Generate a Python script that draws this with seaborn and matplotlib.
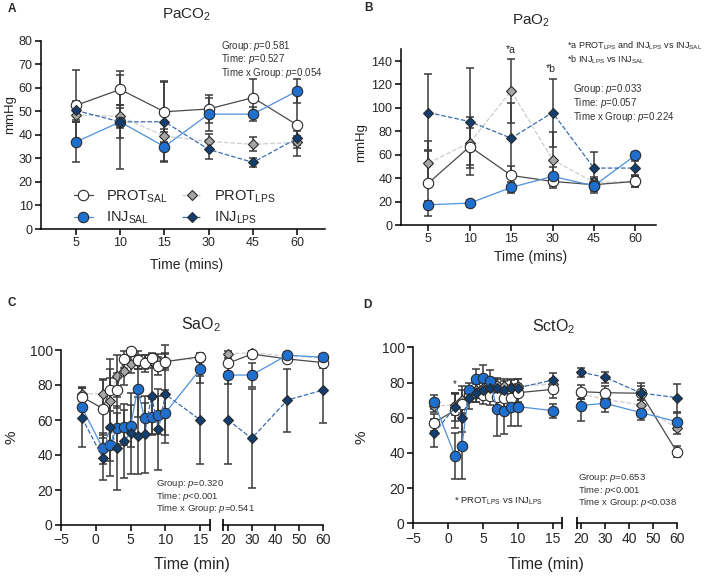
import numpy as np
import pandas as pd
import matplotlib
matplotlib.use("Agg")
import matplotlib.pyplot as plt
import seaborn as sns

sns.set_style("ticks")
plt.rcParams['font.family'] = ['Liberation Sans', 'DejaVu Sans']
plt.rcParams['mathtext.fontset'] = 'custom'
plt.rcParams['mathtext.rm'] = 'Liberation Sans'
plt.rcParams['mathtext.it'] = 'Liberation Sans:italic'
plt.rcParams['mathtext.bf'] = 'Liberation Sans:bold'

# ---- data ----
groups = ['PROT_SAL', 'INJ_SAL', 'PROT_LPS', 'INJ_LPS']
labels = {'PROT_SAL': r'PROT$_{\mathrm{SAL}}$', 'INJ_SAL': r'INJ$_{\mathrm{SAL}}$',
          'PROT_LPS': r'PROT$_{\mathrm{LPS}}$', 'INJ_LPS': r'INJ$_{\mathrm{LPS}}$'}

time_ab = ['5', '10', '15', '30', '45', '60']

# PaCO2
paco2 = {'PROT_SAL': [52.5, 59.3, 49.8, 51.0, 55.8, 44.2],
         'INJ_SAL': [37.0, 45.5, 35.0, 48.8, 48.8, 58.6],
         'PROT_LPS': [48.5, 47.8, 39.5, 37.2, 36.0, 36.8],
         'INJ_LPS': [50.4, 45.5, 45.6, 33.8, 28.3, 38.5]}
paco2_err = {'PROT_SAL': [15, 8, 13, 6, 8, 13],
             'INJ_SAL': [8.5, 20, 6.3, 7, 3, 5],
             'PROT_LPS': [3, 5, 3, 3, 3, 2.5],
             'INJ_LPS': [4, 7, 17, 4, 2, 3]}

# PaO2
pao2 = {'PROT_SAL': [35.8, 67.0, 42.3, 37.2, 34.4, 37.2],
        'INJ_SAL': [17.3, 18.7, 32.1, 41.5, 33.5, 59.4],
        'PROT_LPS': [52.8, 70.4, 114.5, 55.7, 36.4, 37.2],
        'INJ_LPS': [96.0, 88.3, 74.1, 96.0, 48.6, 48.6]}
pao2_err = {'PROT_SAL': [28, 16, 8, 3, 5, 5],
            'INJ_SAL': [3, 3, 5, 8, 6, 3],
            'PROT_LPS': [19, 22, 27, 24, 5, 5],
            'INJ_LPS': [33, 46, 30, 29, 13.5, 6]}

time_early = [-2, 1, 2, 3, 4, 5, 6, 7, 8, 9, 10, 15]
time_late = [20, 30, 45, 60]

# SaO2
sao2_early = {'PROT_SAL': [73.3, 66.5, 77, 77, 94.7, 99.4, 94.3, 92.4, 95.2, 90.9, 93.3, 96.2],
              'INJ_SAL': [67.2, 43.8, 45.7, 55.2, 55.8, 56.6, 77.7, 61, 61.9, 62.9, 64.2, 89],
              'PROT_LPS': [75, 75, 71, 85, 88, 92, 93, 93, 94, 94, 94, 95],
              'INJ_LPS': [61.3, 38.5, 56.2, 44.2, 48, 52.4, 51, 51.8, 73.7, 54.7, 74.7, 60]}
sao2_early_err = {'PROT_SAL': [5, 17, 12, 10, 5, 2, 5, 5, 3, 5, 5, 2],
                  'INJ_SAL': [6, 9, 9, 9, 10, 12, 16, 9, 10, 11, 13, 8],
                  'PROT_LPS': [4, 8, 24, 12, 8, 5, 4, 4, 4, 4, 4, 2],
                  'INJ_LPS': [17, 13, 28, 24, 21, 23, 22, 22, 22, 23, 28, 25]}
sao2_late = {'PROT_SAL': [92.4, 97.7, 94.9, 92.8],
             'INJ_SAL': [85.7, 85.7, 97.1, 95.8],
             'PROT_LPS': [97.7, 98.5, 96.5, 95.5],
             'INJ_LPS': [60, 49.5, 71.4, 77.1]}
sao2_late_err = {'PROT_SAL': [5, 2, 2, 3],
                 'INJ_SAL': [5, 7, 2, 2],
                 'PROT_LPS': [2, 1, 2, 2],
                 'INJ_LPS': [25, 28.5, 18, 19]}

# SctO2
scto2_early = {'PROT_SAL': [57.2, 64.2, 67.8, 73.5, 73.9, 72.9, 72.3, 71.6, 71.2, 71, 74.2, 76.1],
               'INJ_SAL': [68.9, 38.4, 43.9, 75.7, 81.8, 82.8, 81.1, 64.8, 63.8, 66.3, 66.3, 64],
               'PROT_LPS': [66.5, 67.5, 70, 73, 75.5, 77, 77.5, 78.5, 78, 77.5, 78, 79],
               'INJ_LPS': [51.1, 66, 60, 71, 74, 76, 77, 77, 76, 77, 77, 81.4]}
scto2_early_err = {'PROT_SAL': [5, 10, 8, 4, 5, 5, 5, 5, 5, 5, 5, 5],
                   'INJ_SAL': [4, 13, 19, 4, 6, 7, 6, 15, 13, 11, 11, 4],
                   'PROT_LPS': [3, 6, 8, 4, 4, 4, 4, 4, 4, 4, 4, 3],
                   'INJ_LPS': [8, 8, 8, 6, 5, 5, 5, 5, 5, 5, 5, 4]}
scto2_late = {'PROT_SAL': [74.8, 74.2, 73.9, 40.7],
              'INJ_SAL': [66.9, 68.2, 62.9, 57.8],
              'PROT_LPS': [73.5, 70.5, 67.2, 54],
              'INJ_LPS': [85.8, 83, 74, 71.4]}
scto2_late_err = {'PROT_SAL': [4, 4, 4, 3],
                  'INJ_SAL': [8.5, 5, 4, 5],
                  'PROT_LPS': [3, 3, 3, 3],
                  'INJ_LPS': [2.5, 3, 6, 8]}

# ---- styles ----
styles = {'PROT_SAL': dict(color='#4a4a4a', marker='o', markerfacecolor='white', markersize=7.5, linestyle='-'),
          'INJ_SAL': dict(color='#4d90dc', marker='o', markerfacecolor='#1f6fcf', markersize=7.5, linestyle='-'),
          'PROT_LPS': dict(color='#cdcdcd', marker='D', markerfacecolor='#a6a6a6', markersize=5, linestyle='--'),
          'INJ_LPS': dict(color='#3a6db0', marker='D', markerfacecolor='#123f70', markersize=5, linestyle='--')}
draw_order = ['PROT_LPS', 'PROT_SAL', 'INJ_SAL', 'INJ_LPS']

W, H = 708, 576
fig = plt.figure(figsize=(W / 100, H / 100), dpi=100)


def box(l, t, r, b):
    return [l / W, 1 - b / H, (r - l) / W, (b - t) / H]


def ftext(x, y, s, **kw):
    kw.setdefault('ha', 'left')
    kw.setdefault('va', 'center')
    fig.text(x / W, 1 - y / H, s, **kw)


def series(ax, x, y, err, g, label=None):
    ax.errorbar(x, y, yerr=err, fmt='none', ecolor='#3a3a3a', elinewidth=1.1,
                capsize=3, capthick=1.1, zorder=2, clip_on=False)
    sns.lineplot(x=x, y=y, ax=ax, errorbar=None, linewidth=0.9,
                 markeredgecolor='#2a2a2a', markeredgewidth=0.8, zorder=3,
                 label=label, legend=False, clip_on=False, **styles[g])


def style_ax(ax, fs, left=True):
    sns.despine(ax=ax, left=not left)
    for s in ['left', 'bottom']:
        ax.spines[s].set_linewidth(1.1)
        ax.spines[s].set_color('black')
    ax.tick_params(direction='out', length=4, width=1.1, labelsize=fs, color='black', pad=2)
    ax.set_xlabel('')
    ax.set_ylabel('')
    if not left:
        ax.tick_params(axis='y', left=False, labelleft=False)


def ptext(x, y_top, lines, fs):
    fig.text(x / W, 1 - y_top / H, '\n'.join(lines), fontsize=fs, color='#333333',
             ha='left', va='top', linespacing=0.95)


# ---- A: PaCO2 ----
axA = fig.add_axes(box(41, 40.7, 325, 229))
xa = np.arange(len(time_ab))
for g in draw_order:
    series(axA, xa, paco2[g], paco2_err[g], g, label=labels[g])
axA.set_xlim(-0.79, 5.63)
axA.set_ylim(0, 80)
axA.set_yticks(np.arange(0, 81, 10))
axA.set_xticks(xa)
axA.set_xticklabels(time_ab)
style_ax(axA, 9)
h, l = axA.get_legend_handles_labels()
order = [l.index(labels[g]) for g in groups]
axA.legend([h[i] for i in order], [l[i] for i in order], ncol=2, frameon=False,
           fontsize=10.5, loc='lower left', bbox_to_anchor=(0.115, 0.015),
           handlelength=1.3, handletextpad=0.9, columnspacing=1.0, labelspacing=0.35,
           borderpad=0, borderaxespad=0)
ftext(8, 9, 'A', fontsize=8.5, fontweight='bold')
ftext(187, 15, r'PaCO$_2$', fontsize=11, ha='center')
ftext(187, 265, 'Time (mins)', fontsize=10, ha='center')
ftext(10, 114, 'mmHg', fontsize=9.5, ha='center', rotation=90)
ptext(221, 39, [r'Group: $p$=0.581', r'Time: $p$=0.527', r'Time x Group: $p$=0.054'], 7)

# ---- B: PaO2 ----
axB = fig.add_axes(box(400.7, 49.3, 656, 225))
for g in draw_order:
    series(axB, xa, pao2[g], pao2_err[g], g)
axB.set_xlim(-0.67, 5.5)
axB.set_ylim(0, 150)
axB.set_yticks(np.arange(0, 141, 20))
axB.set_xticks(xa)
axB.set_xticklabels(time_ab)
style_ax(axB, 9)
ftext(364, 8, 'B', fontsize=8.5, fontweight='bold')
ftext(531, 21, r'PaO$_2$', fontsize=11, ha='center')
ftext(531, 257, 'Time (mins)', fontsize=10, ha='center')
ftext(361, 142, 'mmHg', fontsize=9.5, ha='center', rotation=90)
ftext(510.7, 50, '*a', fontsize=7.5, ha='center')
ftext(550.7, 69.3, '*b', fontsize=7.5, ha='center')
fig.text(566.7 / W, 1 - 39 / H,
         r'*a PROT$_{\mathrm{LPS}}$ and INJ$_{\mathrm{LPS}}$ vs INJ$_{\mathrm{SAL}}$' + '\n' +
         r'*b INJ$_{\mathrm{LPS}}$ vs INJ$_{\mathrm{SAL}}$',
         fontsize=6.5, ha='left', va='top', linespacing=1.25)
ptext(573, 82.5, [r'Group: $p$=0.033', r'Time: $p$=0.057', r'Time x Group: $p$=0.224'], 7)


# ---- C / D: broken time axis ----
def broken_panel(l1, r1, l2, r2, top, bottom, xl1, xl2, early, early_err, late, late_err):
    ax1 = fig.add_axes(box(l1, top, r1, bottom))
    ax2 = fig.add_axes(box(l2, top, r2, bottom))
    for g in draw_order:
        series(ax1, time_early, early[g], early_err[g], g)
        series(ax2, time_late, late[g], late_err[g], g)
    for ax in (ax1, ax2):
        ax.set_ylim(0, 100)
        ax.set_yticks(np.arange(0, 101, 20))
    ax1.set_xlim(*xl1)
    ax2.set_xlim(*xl2)
    ax1.set_xticks([-5, 0, 5, 10, 15])
    ax2.set_xticks([20, 30, 40, 50, 60])
    style_ax(ax1, 10)
    style_ax(ax2, 10, left=False)
    ax1.plot([1], [0], marker='|', markersize=9, markeredgewidth=1.2, color='black',
             transform=ax1.transAxes, clip_on=False)
    ax2.plot([0], [0], marker='|', markersize=9, markeredgewidth=1.2, color='black',
             transform=ax2.transAxes, clip_on=False)
    return ax1, ax2


broken_panel(61, 210, 223, 323, 350, 525, (-5, 16.4), (17.9, 60),
             sao2_early, sao2_early_err, sao2_late, sao2_late_err)
ftext(8, 303, 'C', fontsize=8.5, fontweight='bold')
ftext(200.7, 325, r'SaO$_2$', fontsize=11.5, ha='center')
ftext(192, 565, 'Time (min)', fontsize=11.5, ha='center')
ftext(12, 437, '%', fontsize=11, ha='center', rotation=90)
ptext(155.7, 478, [r'Group: $p$=0.320', r'Time: $p$<0.001', r'Time x Group: $p$=0.541'], 6.8)

broken_panel(413, 562, 577, 676.7, 347.3, 523.3, (-5, 16.3), (18.3, 60),
             scto2_early, scto2_early_err, scto2_late, scto2_late_err)
ftext(363, 305, 'D', fontsize=8.5, fontweight='bold')
ftext(554, 327, r'SctO$_2$', fontsize=11.5, ha='center')
ftext(546, 565, 'Time (min)', fontsize=11.5, ha='center')
ftext(362, 437, '%', fontsize=11, ha='center', rotation=90)
ftext(454.3, 384, '*', fontsize=7, ha='center')
ftext(454, 501, r'* PROT$_{\mathrm{LPS}}$ vs INJ$_{\mathrm{LPS}}$', fontsize=6.8)
ptext(578.3, 472, [r'Group: $p$=0.653', r'Time: $p$<0.001', r'Time x Group: $p$<0.038'], 6.8)

fig.savefig('out.png', dpi=100, facecolor='white')
